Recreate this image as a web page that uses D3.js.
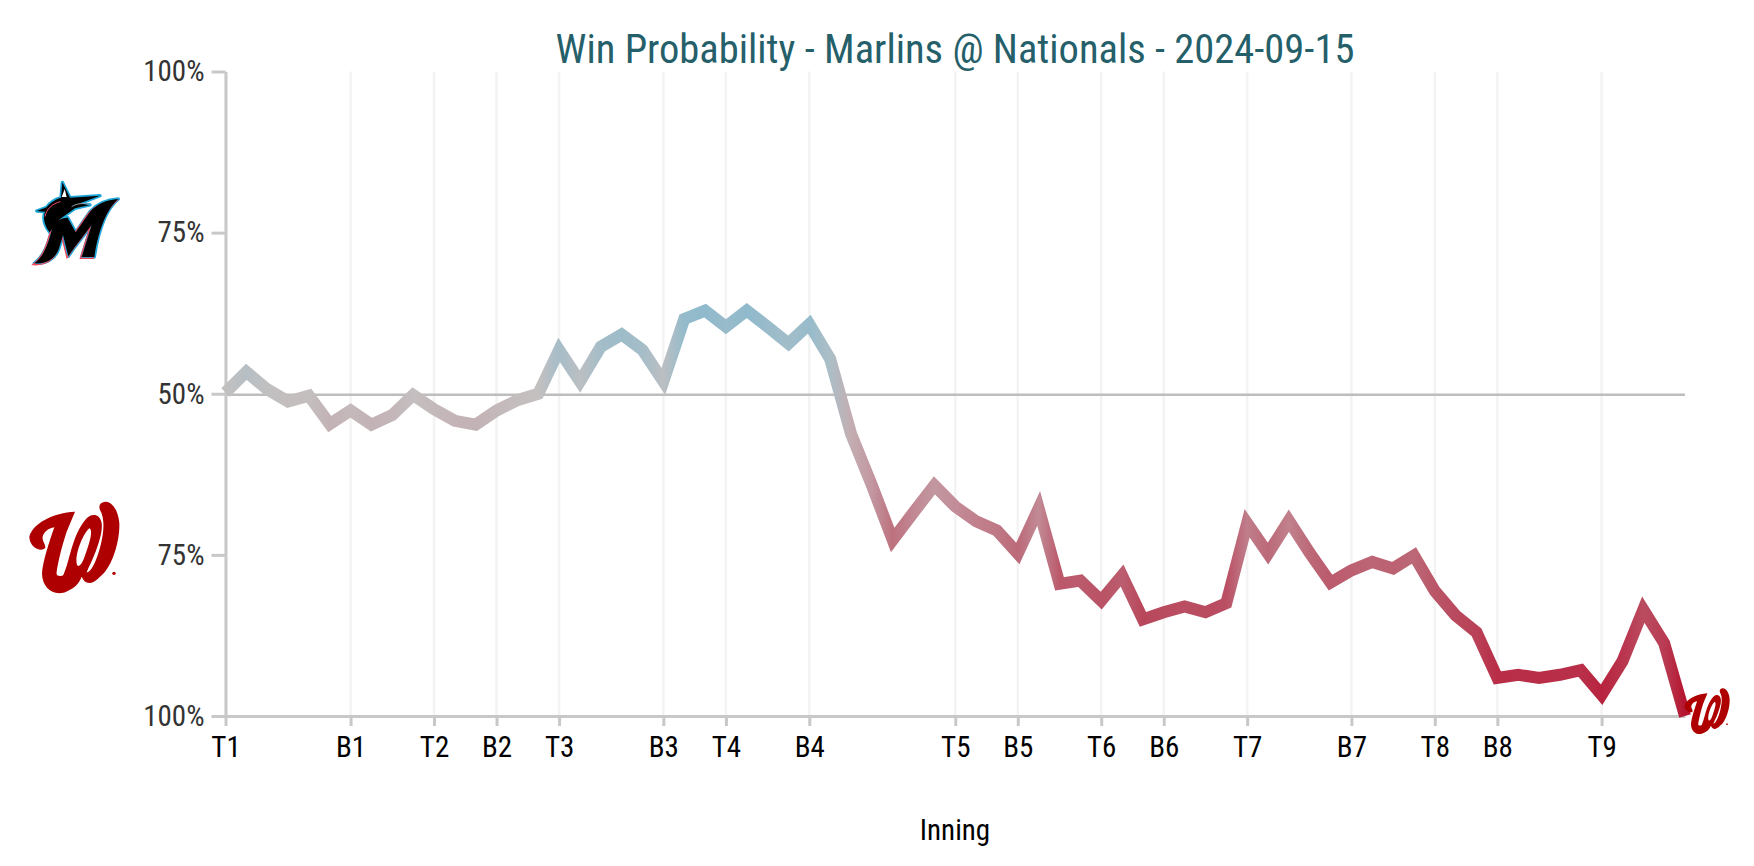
<!DOCTYPE html>
<html>
<head>
<meta charset="UTF-8">
<title>Win Probability</title>
<script src="https://cdn.jsdelivr.net/npm/d3@7"></script>
<style>
  body { margin: 0; background: #fff; }
  text { font-family: "Roboto Condensed", Roboto, sans-serif; font-stretch: condensed; }
</style>
</head>
<body>
<svg id="chart" width="1754" height="866"></svg>
<script>
// marlins win probability per play, %
var winProb = [50.2, 53.4, 50.7, 48.8, 49.7, 45.3, 47.4, 45.2, 46.7, 49.8,
  47.6, 45.8, 45.2, 47.4, 49.0, 50.0, 56.8, 51.9, 57.3, 59.2,
  56.8, 51.9, 61.6, 62.9, 60.4, 62.9, 60.4, 57.8, 60.8, 55.4,
  43.8, 35.8, 27.3, 31.6, 35.8, 32.5, 30.2, 28.8, 25.2, 32.2,
  20.5, 21.0, 17.9, 21.8, 15.0, 16.1, 17.0, 16.1, 17.5, 29.9,
  25.2, 30.3, 25.3, 20.7, 22.6, 23.9, 22.9, 24.9, 19.4, 15.6,
  13.0, 5.9, 6.4, 5.9, 6.4, 7.1, 3.3, 8.5, 16.5, 11.3, 0];
var inningLabels = ["T1", "B1", "T2", "B2", "T3", "B3", "T4", "B4", "T5", "B5", "T6", "B6", "T7", "B7", "T8", "B8", "T9"];
var inningPlays = [0, 6, 10, 13, 16, 21, 24, 28, 35, 38, 42, 45, 49, 54, 58, 61, 66];
var yTicks = [0, 25, 50, 75, 100];
var yTickLabels = ["100%", "75%", "50%", "75%", "100%"];

var svg = d3.select("#chart");
var x = d3.scaleLinear().domain([0, winProb.length - 1]).range([225.5, 1685]);
var y = d3.scaleLinear().domain([0, 100]).range([716, 71.5]);

// grey at even, marlins blue above, nationals red below
var color = d3.scaleLinear()
  .domain([0, 5, 15, 27, 33, 50, 57, 63])
  .range(["#b5142f", "#b92a45", "#b9475c", "#bd6f7d", "#c28f9a", "#c4c0c0", "#a5bdc8", "#8fbacc"]);

var defs = svg.append("defs");
var grad = defs.append("linearGradient")
  .attr("id", "wpGrad")
  .attr("gradientUnits", "userSpaceOnUse")
  .attr("x1", x(0)).attr("x2", x(winProb.length - 1))
  .attr("y1", 0).attr("y2", 0);
grad.selectAll("stop").data(winProb).enter().append("stop")
  .attr("offset", function(d, i) { return i / (winProb.length - 1); })
  .attr("stop-color", function(d) { return color(d); });

// vertical grid
svg.append("g").selectAll("line").data(inningPlays).enter().append("line")
  .attr("x1", function(d) { return x(d); })
  .attr("x2", function(d) { return x(d); })
  .attr("y1", y(100)).attr("y2", y(0))
  .attr("stroke", "#f3f3f3").attr("stroke-width", 2.5);

// 50% line
svg.append("line")
  .attr("x1", x(0)).attr("x2", x(winProb.length - 1))
  .attr("y1", y(50) + 1).attr("y2", y(50) + 1)
  .attr("stroke", "#bdbdbd").attr("stroke-width", 2.5);

var yAxis = svg.append("g")
  .attr("transform", "translate(" + x(0) + ",0)")
  .call(d3.axisLeft(y).tickValues(yTicks).tickSize(14).tickSizeOuter(0).tickPadding(7)
    .tickFormat(function(d, i) { return yTickLabels[i]; }));
var xAxis = svg.append("g")
  .attr("transform", "translate(0," + y(0) + ")")
  .call(d3.axisBottom(x).tickValues(inningPlays).tickSize(10).tickSizeOuter(0).tickPadding(10)
    .tickFormat(function(d, i) { return inningLabels[i]; }));

[yAxis, xAxis].forEach(function(a) {
  a.selectAll("path, line").attr("stroke", "#c8c8c8").attr("stroke-width", 3);
  a.selectAll("text").attr("font-size", 29);
});
yAxis.selectAll("text").attr("fill", "#333");
xAxis.selectAll("text").attr("fill", "#000");

// win probability line
var line = d3.line().x(function(d, i) { return x(i); }).y(function(d) { return y(d); });
svg.append("path").datum(winProb)
  .attr("d", line)
  .attr("fill", "none")
  .attr("stroke", "url(#wpGrad)")
  .attr("stroke-width", 12)
  .attr("stroke-linejoin", "miter")
  .attr("stroke-miterlimit", 10);

svg.append("text").text("Win Probability - Marlins @ Nationals - 2024-09-15")
  .attr("x", 955).attr("y", 63).attr("text-anchor", "middle")
  .attr("font-size", 40.5).attr("fill", "#25606a");
svg.append("text").text("Inning")
  .attr("x", 955).attr("y", 840).attr("text-anchor", "middle")
  .attr("font-size", 29).attr("fill", "#000");

// team logos, hand traced
var wPath = "M165,50 L140,110 C120,170 110,225 110,235 C108,245 125,245 130,240 C150,200 155,120 200,70 C215,55 240,55 245,85 C250,120 220,190 205,220 L200,232 C215,232 232,190 242,150 C252,110 255,70 240,45 C235,32 240,22 255,20 C275,18 295,45 298,85 C300,130 280,215 240,245 C215,272 195,268 185,245 C180,258 170,275 150,284 C110,310 66,285 66,235 C68,200 88,140 103,97 C85,100 72,110 68,125 C65,140 80,150 75,160 C60,172 28,155 28,125 C38,85 100,53 165,50 Z M208,100 C190,115 165,175 170,205 C172,222 185,210 192,190 C205,155 222,105 208,100 Z";

function drawW(tx, ty, s) {
  var g = svg.append("g").attr("transform", "translate(" + tx + "," + ty + ") scale(" + s + ")");
  g.append("path").attr("d", wPath).attr("fill", "#ae0000").attr("fill-rule", "evenodd");
  g.append("circle").attr("cx", 282).attr("cy", 235).attr("r", 5).attr("fill", "#ae0000");
}
drawW(20, 495, 1 / 3);
drawW(1680, 685, 1 / 6);

var mHead = "M112,22 L135,68 L225,62 L165,85 L195,90 L150,100 L105,132 L74,172 C56,148 54,125 60,110 L35,108 L65,97 C75,82 95,72 108,68 Z";
var mBody = "M280,72 C245,74 215,88 195,110 L152,172 L128,128 C108,128 90,140 82,160 C72,195 62,240 28,265 C65,268 92,250 102,220 L114,180 L130,244 L150,215 L200,150 L170,246 L208,246 C218,180 240,105 280,72 Z";
var mg = svg.append("g").attr("transform", "translate(25,175) scale(0.3333)");
mg.append("path").attr("d", mHead + " " + mBody).attr("fill", "#1ea7d8").attr("stroke", "#1ea7d8").attr("stroke-width", 10).attr("stroke-linejoin", "round");
mg.append("path").attr("d", mBody).attr("transform", "translate(-4,4)").attr("fill", "none").attr("stroke", "#f0495f").attr("stroke-width", 4);
mg.append("path").attr("d", mHead).attr("fill", "#000");
mg.append("path").attr("d", mBody).attr("fill", "#000");
mg.append("path").attr("d", "M60,125 C64,102 82,86 106,80").attr("fill", "none").attr("stroke", "#f0495f").attr("stroke-width", 3);
mg.append("path").attr("d", "M119,42 L125,66 L110,66 Z").attr("fill", "#fff");
mg.append("path").attr("d", "M140,95 C155,85 175,84 192,88").attr("fill", "none").attr("stroke", "#9aa7ad").attr("stroke-width", 3);
</script>
</body>
</html>
